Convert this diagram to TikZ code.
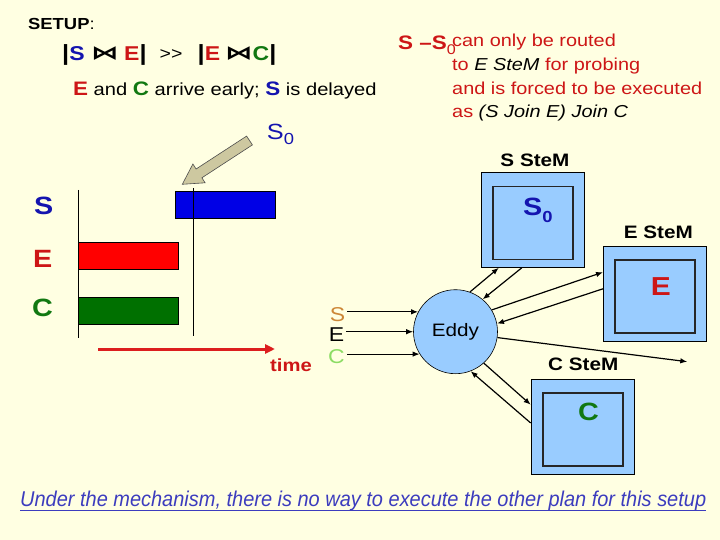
\documentclass[tikz,border=0pt]{standalone}
\usepackage{fontspec}
\setmainfont{Liberation Sans}[FakeStretch=1.15]
\newfontfamily\dejavu{DejaVu Sans}
\usetikzlibrary{arrows.meta,calc}
\definecolor{bg}{RGB}{255,255,226}
\definecolor{tblue}{RGB}{20,20,175}
\definecolor{tred}{RGB}{205,22,22}
\definecolor{tgreen}{RGB}{17,120,17}
\definecolor{stembg}{RGB}{153,204,255}
\definecolor{sorange}{RGB}{205,135,55}
\definecolor{clgreen}{RGB}{140,220,100}
\definecolor{botblue}{RGB}{60,60,190}
\definecolor{arrowgray}{RGB}{205,200,160}
\definecolor{barblue}{RGB}{0,0,230}
\definecolor{barred}{RGB}{255,0,0}
\definecolor{bargreen}{RGB}{0,112,0}
\definecolor{timered}{RGB}{220,30,30}
\newcommand\fsz[1]{\fontsize{#1}{#1}\selectfont}
\newcommand\vbar{{\fsz{22}|}}
\begin{document}
\begin{tikzpicture}[x=1pt,y=-1pt,
  lbl/.style={inner sep=0pt, anchor=base west},
  outerbox/.style={draw=black, fill=stembg, line width=0.6pt, minimum width=103pt, minimum height=95pt, inner sep=0pt},
  innerbox/.style={draw=black!85, fill=stembg, line width=1.8pt, minimum width=80pt, minimum height=73pt, inner sep=0pt},
  bar/.style={draw=black, line width=0.6pt, minimum width=100.4pt, minimum height=27pt, inner sep=0pt},
  conn/.style={line width=1.2pt, -{Latex[length=7pt,width=5.5pt]}},
  stemlbl/.style={font=\fsz{18}\bfseries, inner sep=0pt, anchor=base},
  inlbl/.style={font=\fsz{20}, inner sep=2pt, anchor=base},
  bowtie/.style={font=\dejavu\bfseries\fsz{19}, inner sep=0pt, anchor=base},
  joinpart/.style={inner sep=0pt, anchor=base west, font=\fsz{20}\bfseries},
  vline/.style={line width=0.7pt},
]
\fill[bg] (0,0) rectangle (720,540);
\useasboundingbox (0,0) rectangle (720,540);

% title texts
\node[lbl] (setup) at (28,29.3) {\fsz{16}\textbf{SETUP}:};
\node[joinpart] (j1) at (62,61) {\vbar\textcolor{tblue}{S}};
\node[bowtie] (b1) at (105,60) {\scalebox{1.45}[1]{⋈}};
\node[joinpart] (j2) at (124,61) {\textcolor{tred}{E}\vbar};
\node[joinpart, font=\fsz{17}] (j3) at (159.5,60) {>{}>};
\node[joinpart] (j4) at (197.5,61) {\vbar\textcolor{tred}{E}};
\node[bowtie] (b2) at (239,60) {\scalebox{1.45}[1]{⋈}};
\node[joinpart] (j5) at (252.5,61) {\textcolor{tgreen}{C}\vbar};
\node[lbl] (ec) at (73,95.7) {\fsz{17.5}\textcolor{tred}{\fsz{19.5}\bfseries E} and \textcolor{tgreen}{\fsz{19.5}\bfseries C} arrive early; \textcolor{tblue}{\fsz{19.5}\bfseries S} is delayed};
\node[lbl, text=tblue] (s0t) at (266.7,139.3) {\fsz{22}S\raisebox{-5.5pt}{\fsz{16}0}};

% red remark
\node[lbl, text=tred] (sm) at (398,50) {\fsz{19.5}\bfseries S –S\raisebox{-5pt}{\mdseries\fsz{14}0}};
\node[lbl, text=tred] (r1) at (452,47) {\fsz{17.3}can only be routed};
\node[lbl, text=tred] (r2) at (452,70.5) {\fsz{17.3}to \textcolor{black}{\itshape E SteM} for probing};
\node[lbl, text=tred] (r3) at (452,94.5) {\fsz{17.3}and is forced to be executed};
\node[lbl, text=tred] (r4) at (452,118) {\fsz{17.3}as \textcolor{black}{\itshape (S Join E) Join C}};

% timeline
\node[lbl, text=tblue, font=\fsz{25}\bfseries] (ts) at (34,214.3) {S};
\node[lbl, text=tred, font=\fsz{25}\bfseries] (te) at (33,267.7) {E};
\node[lbl, text=tgreen, font=\fsz{25}\bfseries] (tc) at (32,316.7) {C};
\node[bar, fill=barred] (rbar) at (128.5,256.2) {};
\node[bar, fill=bargreen] (gbar) at (128.5,310.8) {};
\node[bar, fill=barblue] (bbar) at (225.5,204.8) {};
\coordinate (v1t) at (78.3,190);
\coordinate (v1b) at (78.3,338.3);
\coordinate (v2t) at (193.3,188.3);
\coordinate (v2b) at (193.3,335.7);
\draw[vline] (v1t) -- (v1b);
\draw[vline] (v2t) -- (v2b);
\coordinate (t0) at (98.3,349);
\coordinate (t1) at (275,349);
\draw[timered, line width=3pt, -{Triangle[length=10pt,width=9pt]}] (t0) -- (t1);
\node[lbl, text=tred, font=\fsz{17.6}\bfseries] (time) at (270,371.7) {time};

% gray block arrow
\draw[fill=arrowgray, draw=black!70, line width=0.6pt] (246.6,136.1) -- (196.1,169.0) -- (192.9,164.0) -- (182.3,184.3) -- (205.1,182.8) -- (201.9,177.8) -- (252.4,144.9) -- cycle;

% SteMs
\node[outerbox] (sstem) at (533,220) {};
\node[innerbox] (sin) at (533.3,223) {};
\node[lbl, text=tblue, font=\fsz{25}\bfseries] (s0b) at (523,215.7) {S\raisebox{-7pt}{\fsz{16}0}};
\node[stemlbl] (sstemlbl) at (535,166.7) {S SteM};

\node[outerbox] (estem) at (654.8,294) {};
\node[innerbox] (ein) at (655.3,296.3) {};
\node[lbl, text=tred, font=\fsz{26}\bfseries] (eb) at (650.7,295) {E};
\node[stemlbl] (estemlbl) at (658.4,238.3) {E SteM};

\node[outerbox] (cstem) at (582.5,426.8) {};
\node[innerbox] (cin) at (583.3,429.4) {};
\node[lbl, text=tgreen, font=\fsz{25}\bfseries] (cb) at (578,420.7) {C};
\node[stemlbl] (cstemlbl) at (583.3,370) {C SteM};

% Eddy
\node[circle, draw, fill=stembg, minimum size=84pt, inner sep=0pt, line width=0.6pt, font=\fsz{18}] (eddy) at (455.5,331.7) {Eddy};

% inputs
\node[inlbl, text=sorange] (ls) at (337.5,321.7) {S};
\node[inlbl, text=black] (le) at (336.5,341.7) {E};
\node[inlbl, text=clgreen] (lc) at (336.5,363) {C};
\draw[conn] (ls.east |- eddy.152) -- (eddy.152);
\draw[conn] (le.east |- eddy.180) -- (eddy.180);
\draw[conn] (lc.east |- eddy.-148) -- (eddy.-148);

% eddy <-> stems
\draw[conn] (eddy.70) -- ($(sstem.south west)+(17.6,0)$);
\draw[conn] ($(sstem.south west)+(40.6,0)$) -- (eddy.50);
\draw[conn] (eddy.31) -- ($(estem.north west)+(0,26)$);
\draw[conn] ($(estem.north west)+(0,42.6)$) -- (eddy.11);
\coordinate (out) at (687.3,361.7);
\draw[conn] (eddy.-8) -- (out);
\draw[conn] (eddy.-48) -- ($(cstem.north west)+(0,25.7)$);
\draw[conn] ($(cstem.north west)+(0,44)$) -- (eddy.-69);

% bottom
\node[lbl, text=botblue] (bt) at (20,506.7) {\resizebox{686pt}{15.5pt}{\fsz{20}\itshape Under the mechanism, there is no way to execute the other plan for this setup}};
\draw[botblue, line width=0.9pt] ($(bt.base west)+(0,4)$) -- ($(bt.base east)+(0,4)$);
\end{tikzpicture}
\end{document}
